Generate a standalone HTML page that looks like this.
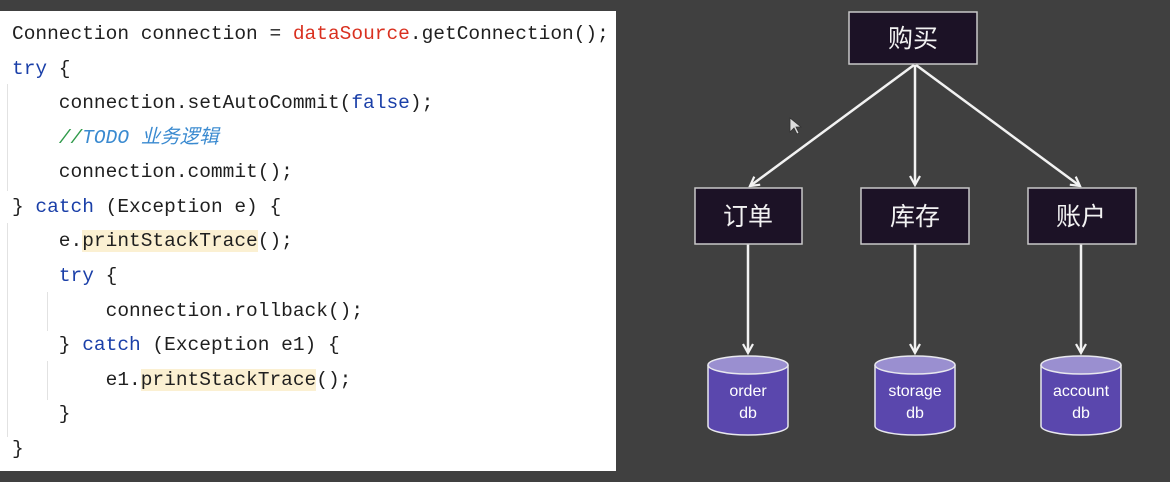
<!DOCTYPE html>
<html><head><meta charset="utf-8"><style>
body{margin:0;width:1170px;height:482px;background:#404040;overflow:hidden;position:relative;font-family:"Liberation Sans","Noto Sans CJK SC",sans-serif}
#code{position:absolute;left:0;top:11px;width:616px;height:460px;background:#fff}
.l{position:absolute;left:12px;font-family:"Liberation Mono","Noto Sans CJK SC",monospace;font-size:19.5px;color:#1f1f1f;white-space:pre;line-height:24px}
.k{color:#1a3fa8}.r{color:#d9301f}.c{color:#2f9a4a;font-style:italic}.t{color:#3a8ad0;font-style:italic}
.h{background:#fbf0d2}
.g{position:absolute;width:1px;background:#e2e2e2}
</style></head><body>
<div id="code">
<div class="g" style="left:7px;top:73px;height:107px"></div>
<div class="g" style="left:7px;top:212px;height:214px"></div>
<div class="g" style="left:47px;top:281px;height:39px"></div>
<div class="g" style="left:47px;top:350px;height:39px"></div>
<div class="l" style="top:11px">Connection connection = <span class="r">dataSource</span>.getConnection();</div>
<div class="l" style="top:46px"><span class="k">try</span> {</div>
<div class="l" style="top:80px">    connection.setAutoCommit(<span class="k">false</span>);</div>
<div class="l" style="top:115px">    <span class="c">//</span><span class="t">TODO 业务逻辑</span></div>
<div class="l" style="top:149px">    connection.commit();</div>
<div class="l" style="top:184px">} <span class="k">catch</span> (Exception e) {</div>
<div class="l" style="top:218px">    e.<span class="h">printStackTrace</span>();</div>
<div class="l" style="top:253px">    <span class="k">try</span> {</div>
<div class="l" style="top:288px">        connection.rollback();</div>
<div class="l" style="top:322px">    } <span class="k">catch</span> (Exception e1) {</div>
<div class="l" style="top:357px">        e1.<span class="h">printStackTrace</span>();</div>
<div class="l" style="top:391px">    }</div>
<div class="l" style="top:426px">}</div>
</div>
<svg width="1170" height="482" style="position:absolute;left:0;top:0">
<defs><marker id="a" markerWidth="12" markerHeight="12" refX="10" refY="6" orient="auto" markerUnits="userSpaceOnUse"><path d="M1,1 L10,6 L1,11" fill="none" stroke="#f2f2f2" stroke-width="2.2"/></marker></defs>
<g stroke="#f2f2f2" stroke-width="2.5" fill="none">
<line x1="914" y1="65" x2="750" y2="186" marker-end="url(#a)"/>
<line x1="915" y1="65" x2="915" y2="185" marker-end="url(#a)"/>
<line x1="916" y1="65" x2="1080" y2="186" marker-end="url(#a)"/>
<line x1="748" y1="244" x2="748" y2="353" marker-end="url(#a)"/>
<line x1="915" y1="244" x2="915" y2="353" marker-end="url(#a)"/>
<line x1="1081" y1="244" x2="1081" y2="353" marker-end="url(#a)"/>
</g>
<g fill="#1c1226" stroke="#c8c8c8" stroke-width="1.5">
<rect x="849" y="12" width="128" height="52"/>
<rect x="695" y="188" width="107" height="56"/>
<rect x="861" y="188" width="108" height="56"/>
<rect x="1028" y="188" width="108" height="56"/>
</g>
<g font-size="25" fill="#f2f2f2" text-anchor="middle" font-family="Liberation Sans,Noto Sans CJK SC,sans-serif">
<text x="913" y="47">购买</text><text x="748" y="225">订单</text><text x="915" y="225">库存</text><text x="1081" y="225">账户</text>
</g>
<g stroke="#e8e8ee" stroke-width="1.5">
<g transform="translate(748,0)"><path d="M-40,365 V426 A40,9 0 0 0 40,426 V365" fill="#5a47ad"/><ellipse cx="0" cy="365" rx="40" ry="9" fill="#9a8fd0"/></g>
<g transform="translate(915,0)"><path d="M-40,365 V426 A40,9 0 0 0 40,426 V365" fill="#5a47ad"/><ellipse cx="0" cy="365" rx="40" ry="9" fill="#9a8fd0"/></g>
<g transform="translate(1081,0)"><path d="M-40,365 V426 A40,9 0 0 0 40,426 V365" fill="#5a47ad"/><ellipse cx="0" cy="365" rx="40" ry="9" fill="#9a8fd0"/></g>
</g>
<g font-size="16" fill="#fff" text-anchor="middle">
<text x="748" y="396">order</text><text x="748" y="418">db</text>
<text x="915" y="396">storage</text><text x="915" y="418">db</text>
<text x="1081" y="396">account</text><text x="1081" y="418">db</text>
</g>
<path d="M790,118 L790,132 L794,128 L797,134 L799,133 L796,127 L801,127 Z" fill="#ddd" stroke="#333" stroke-width="0.8"/>
</svg>
</body></html>
